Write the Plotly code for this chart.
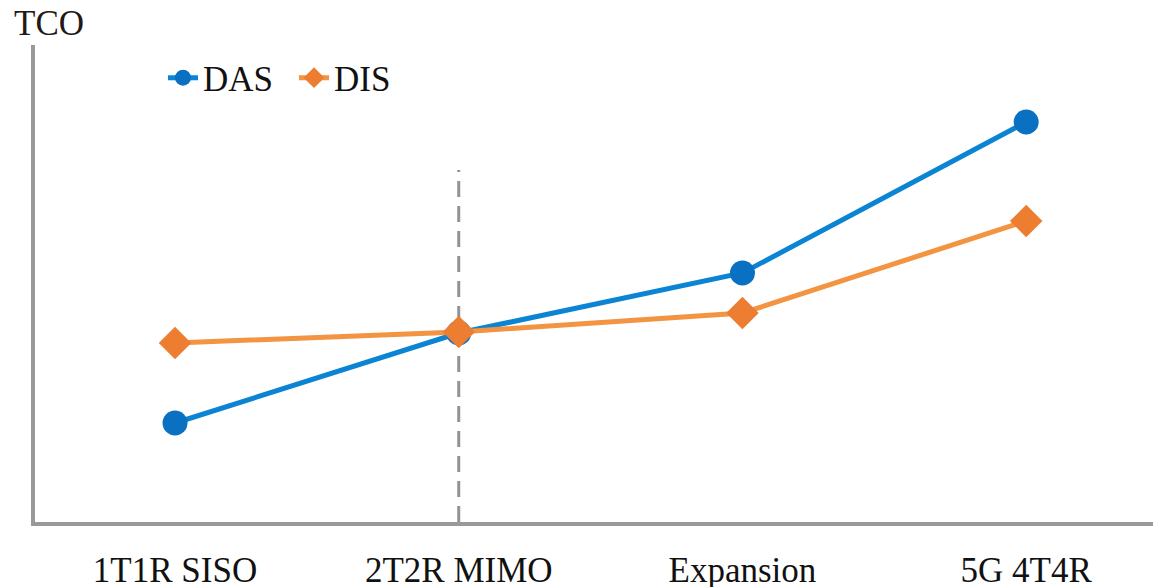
import plotly.graph_objects as go

categories = ["1T1R SISO", "2T2R MIMO", "Expansion", "5G 4T4R"]
das_values = [99, 189, 249, 400]
dis_values = [179, 190, 209, 301]
divider_category = 1
divider_top = 352

x_idx = list(range(len(categories)))
FONT = '"Liberation Serif", "Times New Roman", Times, serif'

fig = go.Figure()
fig.add_trace(go.Scatter(
    x=x_idx, y=das_values, name="DAS", mode="lines+markers",
    line=dict(color="#0b84d3", width=5),
    marker=dict(symbol="circle", size=25, color="#0a70c2"),
))
fig.add_trace(go.Scatter(
    x=x_idx, y=dis_values, name="DIS", mode="lines+markers",
    line=dict(color="#f29441", width=5),
    marker=dict(symbol="diamond", size=25, color="#ed7d31"),
))

fig.add_shape(type="line", xref="x", yref="y",
              x0=divider_category, x1=divider_category, y0=0, y1=divider_top,
              line=dict(color="#939393", width=3, dash="16px,9px"), layer="below")

fig.update_layout(
    width=1153, height=587,
    margin=dict(l=35, r=0, t=45, b=65, autoexpand=False),
    paper_bgcolor="white", plot_bgcolor="white",
    font=dict(family=FONT, size=34, color="#111111"),
    showlegend=True,
    legend=dict(orientation="h", x=0.1145, y=0.931, xanchor="left", yanchor="middle",
                font=dict(family=FONT, size=35, color="#111111"),
                bgcolor="rgba(0,0,0,0)", itemwidth=30, tracegroupgap=0,
                entrywidth=86, entrywidthmode="pixels"),
    xaxis=dict(tickmode="array", tickvals=x_idx, ticktext=categories,
               range=[-0.4935, 3.447], showgrid=False, zeroline=False,
               showline=True, linecolor="#999999", linewidth=4,
               ticks="", ticklabelstandoff=14, automargin=False,
               tickfont=dict(family=FONT, size=35, color="#111111")),
    yaxis=dict(range=[0, 477], showgrid=False, zeroline=False,
               showline=True, linecolor="#999999", linewidth=4,
               showticklabels=False, ticks="", automargin=False),
)
fig.add_annotation(text="TCO", xref="paper", yref="paper", x=-0.0205, y=1.0,
                   xanchor="left", yanchor="bottom", showarrow=False,
                   font=dict(family=FONT, size=35, color="#231815"))

fig.write_html("out.html", config={"displayModeBar": False},
               post_script="document.body.style.margin='0px';")
